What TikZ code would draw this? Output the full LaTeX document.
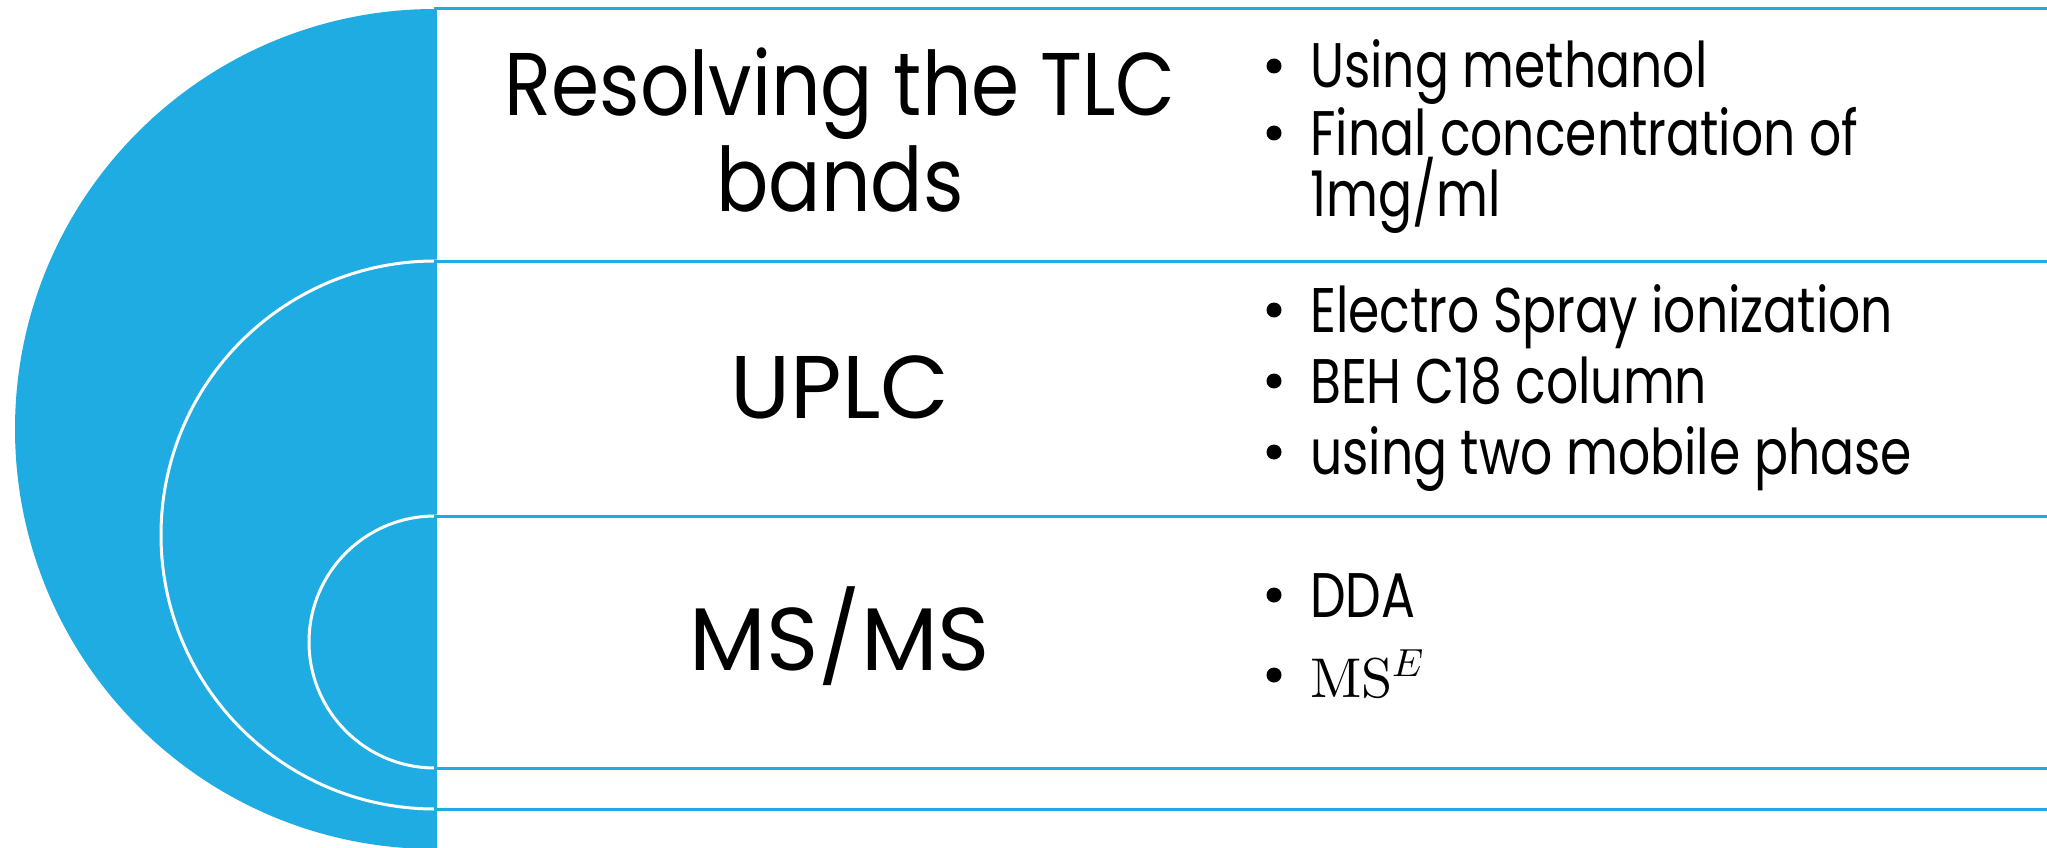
\documentclass[tikz,border=0pt]{standalone}
\usepackage{fontspec}
\usepackage{unicode-math}
\setmainfont{Poppins}[FakeStretch=0.8]
\newfontfamily\headfont{Poppins}[FakeStretch=0.87]
\newfontfamily\capsfont{Poppins}
\setmathfont{Latin Modern Math}
\definecolor{steelblue}{RGB}{30,172,226}
\usetikzlibrary{calc}

\begin{document}
\begin{tikzpicture}[x=1pt,y=-1pt,
    band/.style={draw=steelblue,line width=3pt,fill=white},
    disc/.style={draw=white,line width=3pt,fill=steelblue},
    head/.style={anchor=base,inner sep=0pt,font=\headfont\fontsize{89}{95}\selectfont},
    item/.style={anchor=base west,inner sep=0pt,font=\fontsize{63}{70}\selectfont},
    dot/.style={circle,fill=black,inner sep=0pt,minimum size=15pt}]
            \useasboundingbox (0,0) rectangle (2047,848);
            \clip (0,0) rectangle (2047,848);
            % centres of the three nested discs, all on the spine x=435
            \coordinate (O_1) at (435,429);
            \coordinate (O_2) at (435,535);
            \coordinate (O_3) at (435,642);
            % outer disc and its band
            \fill[steelblue] (O_1) circle[radius=420];
            \draw[band] (435,9) rectangle (2070,852);
            % middle disc and its band
            \draw[disc] (O_2) circle[radius=274];
            \draw[band] (435,261) rectangle (2070,809);
            % inner disc and its band
            \draw[disc] (O_3) circle[radius=126];
            \draw[band] (435,516) rectangle (2070,768);
            % headings
            \node[head] (tlc) at (840,116) {Resolving the TLC};
            \node[head] (bands) at (840,211) {bands};
            \node[head,font=\capsfont\fontsize{89}{95}\selectfont] (uplc) at (840,418) {UPLC};
            \node[head,font=\capsfont\fontsize{89}{95}\selectfont] (msms) at (840,670) {MS/MS};
            % bullet points
            \node[item] (methanol) at (1310,88) {Using methanol};
            \node[item] (conc) at (1310,155) {Final concentration of};
            \node[item] (mgml) at (1310,216) {1mg/ml};
            \node[item] (esi) at (1310,332) {Electro Spray ionization};
            \node[item] (beh) at (1310,403) {BEH C18 column};
            \node[item] (mobile) at (1310,474) {using two mobile phase};
            \node[item] (dda) at (1310,617) {DDA};
            \node[item,font=\fontsize{56}{64}\selectfont] (mse) at (1310,697) {$\symup{MS}^{E}$};
            \foreach \t in {methanol,conc,esi,beh,mobile,dda,mse}
              \node[dot] at ($(\t.base west)+(-36,-22)$) {};
    \end{tikzpicture}
\end{document}
